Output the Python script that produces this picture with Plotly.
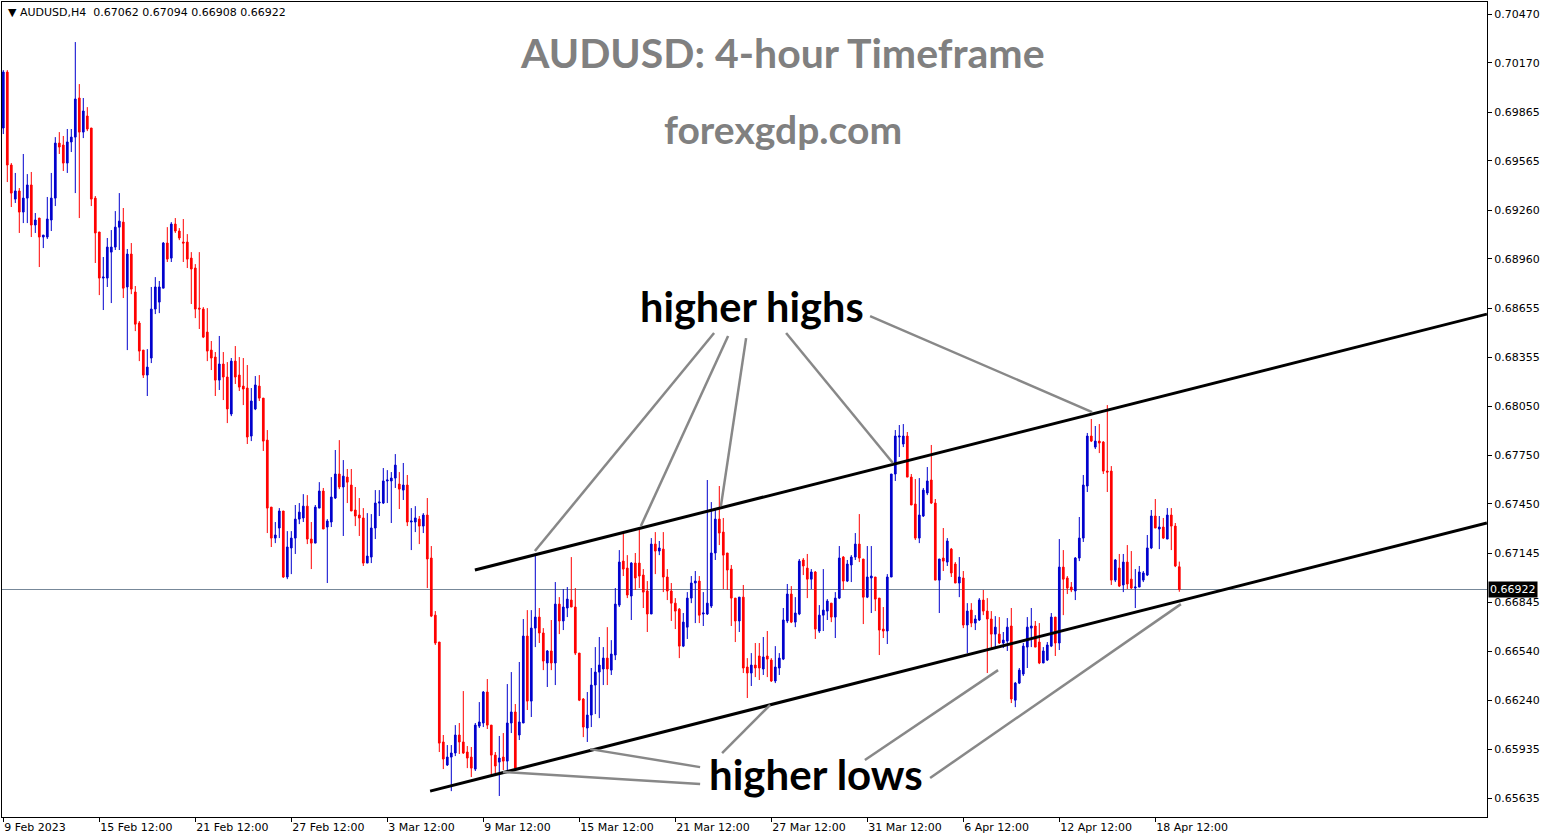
import plotly.graph_objects as go

# ---------------- data (AUDUSD, H4) ----------------
open_ = [
0.69767,0.70112,0.69539,0.69329,0.69379,0.69249,0.69335,0.69416,0.69169,0.69212,
0.69095,0.69095,0.69200,0.69335,0.69674,0.69662,0.69551,0.69681,0.69711,0.69952,
0.69742,0.69841,0.69767,0.69335,0.69126,0.68842,0.68842,0.69002,0.69033,0.69156,
0.69187,0.68787,0.68990,0.68756,0.68565,0.68398,0.68244,0.68349,0.68651,0.68694,
0.68780,0.69058,0.68965,0.69175,0.69132,0.69064,0.69064,0.68965,0.68904,0.68657,
0.68651,0.68509,0.68398,0.68355,0.68213,0.68312,0.68232,0.68004,0.68330,0.68244,
0.68176,0.68164,0.67868,0.68035,0.68176,0.68102,0.67843,0.67430,0.67239,0.67301,
0.67406,0.66999,0.67178,0.67239,0.67356,0.67363,0.67436,0.67233,0.67208,0.67424,
0.67529,0.67307,0.67338,0.67486,0.67634,0.67554,0.67615,0.67566,0.67412,0.67381,
0.67363,0.67085,0.67122,0.67301,0.67455,0.67455,0.67591,0.67591,0.67609,0.67572,
0.67535,0.67566,0.67338,0.67338,0.67356,0.67313,0.67381,0.67116,0.66764,0.66598,
0.65982,0.65840,0.65889,0.65914,0.66025,0.65982,0.65920,0.65889,0.65815,0.66080,
0.66099,0.66290,0.66086,0.65901,0.65858,0.65889,0.65864,0.66099,0.66167,0.66025,
0.66099,0.66635,0.66234,0.66684,0.66752,0.66654,0.66469,0.66543,0.66469,0.66832,
0.66728,0.66808,0.66857,0.66814,0.66530,0.66247,0.66068,0.66148,0.66333,0.66413,
0.66432,0.66499,0.66425,0.66518,0.66826,0.67097,0.67054,0.66882,0.67085,0.67085,
0.67011,0.66913,0.66771,0.67202,0.67159,0.67171,0.66999,0.66913,0.66838,0.66801,
0.66573,0.66690,0.66869,0.66962,0.66974,0.66771,0.66771,0.66820,0.67147,0.67356,
0.67276,0.67147,0.67048,0.66869,0.66728,0.66875,0.66444,0.66407,0.66456,0.66512,
0.66432,0.66512,0.66487,0.66358,0.66438,0.66493,0.66728,0.66894,0.66721,0.66771,
0.67104,0.67054,0.66986,0.67030,0.66666,0.66764,0.66789,0.66838,0.66752,0.66869,
0.67122,0.66974,0.67073,0.67122,0.67202,0.67110,0.66875,0.66993,0.66999,0.66869,
0.66678,0.66666,0.66999,0.67634,0.67862,0.67819,0.67868,0.67615,0.67449,0.67239,
0.67375,0.67517,0.67597,0.67455,0.66980,0.67116,0.67091,0.67171,0.67079,0.66962,
0.66993,0.66703,0.66795,0.66715,0.66734,0.66857,0.66789,0.66740,0.66647,0.66647,
0.66592,0.66604,0.66697,0.66240,0.66345,0.66401,0.66567,0.66684,0.66697,0.66598,
0.66469,0.66487,0.66573,0.66752,0.66592,0.67060,0.66993,0.66937,0.66913,0.67116,
0.67239,0.67560,0.67868,0.67800,0.67837,0.67831,0.67652,0.67652,0.66980,0.67054,
0.66950,0.67091,0.66986,0.66931,0.66937,0.66980,0.67011,0.67178,0.67375,0.67295,
0.67307,0.67233,0.67381,0.67313,0.67062]

high = [
0.70124,0.70124,0.69551,0.69490,0.69397,0.69607,0.69483,0.69496,0.69243,0.69212,
0.69107,0.69342,0.69490,0.69711,0.69742,0.69718,0.69761,0.69761,0.70297,0.70038,
0.69952,0.69896,0.69767,0.69348,0.69126,0.68972,0.69089,0.69138,0.69255,0.69366,
0.69274,0.69021,0.69058,0.68793,0.68577,0.68398,0.68404,0.68787,0.68848,0.68824,
0.69064,0.69156,0.69187,0.69212,0.69150,0.69206,0.69113,0.69002,0.68928,0.69002,
0.68663,0.68657,0.68454,0.68386,0.68485,0.68386,0.68324,0.68349,0.68423,0.68355,
0.68349,0.68306,0.68164,0.68238,0.68244,0.68102,0.67905,0.67430,0.67338,0.67424,
0.67406,0.67282,0.67282,0.67443,0.67455,0.67510,0.67504,0.67338,0.67443,0.67584,
0.67548,0.67356,0.67615,0.67782,0.67843,0.67720,0.67665,0.67665,0.67554,0.67486,
0.67424,0.67393,0.67387,0.67535,0.67535,0.67671,0.67658,0.67646,0.67757,0.67646,
0.67702,0.67628,0.67424,0.67436,0.67375,0.67393,0.67486,0.67190,0.66789,0.66598,
0.66025,0.65963,0.65963,0.66086,0.66099,0.66296,0.65957,0.65951,0.66099,0.66228,
0.66296,0.66370,0.66086,0.65920,0.66019,0.66037,0.66339,0.66413,0.66216,0.66475,
0.66740,0.66795,0.66795,0.67141,0.66808,0.66684,0.66549,0.66734,0.66968,0.66875,
0.66925,0.66937,0.67122,0.66931,0.66530,0.66253,0.66290,0.66438,0.66567,0.66629,
0.66567,0.66690,0.66610,0.66931,0.67165,0.67270,0.67134,0.67091,0.67147,0.67307,
0.67048,0.66974,0.67239,0.67276,0.67221,0.67276,0.67048,0.66962,0.66869,0.66808,
0.66777,0.66906,0.67005,0.67036,0.67005,0.66906,0.67597,0.67461,0.67424,0.67560,
0.67363,0.67147,0.67073,0.66869,0.66875,0.66950,0.66499,0.66530,0.66592,0.66592,
0.66629,0.66666,0.66499,0.66573,0.66530,0.66808,0.66956,0.66943,0.66875,0.67110,
0.67116,0.67141,0.67048,0.67036,0.66826,0.67048,0.66863,0.66838,0.66906,0.67190,
0.67128,0.67104,0.67134,0.67270,0.67387,0.67110,0.67190,0.67190,0.66999,0.66869,
0.66814,0.67017,0.67634,0.67905,0.67936,0.67942,0.67893,0.67634,0.67603,0.67609,
0.67548,0.67677,0.67813,0.67480,0.67110,0.67301,0.67239,0.67178,0.67091,0.67122,
0.67036,0.66838,0.66838,0.66764,0.66869,0.66919,0.66869,0.66789,0.66758,0.66752,
0.66660,0.66746,0.66808,0.66352,0.66438,0.66592,0.66752,0.66808,0.66728,0.66715,
0.66567,0.66598,0.66777,0.66752,0.67233,0.67165,0.67005,0.66968,0.67122,0.67369,
0.67628,0.67887,0.67973,0.67930,0.67942,0.67837,0.68059,0.67683,0.67110,0.67141,
0.67141,0.67196,0.67159,0.67048,0.67067,0.67036,0.67258,0.67412,0.67480,0.67375,
0.67363,0.67424,0.67424,0.67332,0.67094]

low = [
0.69730,0.69434,0.69280,0.69305,0.69120,0.69181,0.69181,0.69095,0.69120,0.68910,
0.69027,0.69083,0.69132,0.69286,0.69607,0.69502,0.69490,0.69619,0.69366,0.69212,
0.69705,0.69748,0.69286,0.68935,0.68737,0.68645,0.68787,0.68688,0.69015,0.69015,
0.68719,0.68398,0.68743,0.68515,0.68330,0.68226,0.68115,0.68318,0.68620,0.68626,
0.68780,0.68941,0.68941,0.69120,0.69076,0.68941,0.68904,0.68682,0.68595,0.68528,
0.68472,0.68330,0.68275,0.68115,0.68152,0.68090,0.67948,0.67991,0.68189,0.68146,
0.68059,0.67819,0.67837,0.68028,0.68084,0.67776,0.67270,0.67184,0.67208,0.67239,
0.66993,0.66986,0.67017,0.67141,0.67325,0.67338,0.67202,0.67048,0.67208,0.67424,
0.67295,0.66962,0.67307,0.67480,0.67541,0.67252,0.67455,0.67406,0.67313,0.67252,
0.67067,0.67085,0.67085,0.67233,0.67375,0.67449,0.67455,0.67332,0.67548,0.67418,
0.67474,0.67313,0.67165,0.67276,0.67202,0.67270,0.66931,0.66752,0.66580,0.65920,
0.65815,0.65834,0.65679,0.65895,0.65908,0.65908,0.65821,0.65766,0.65803,0.66068,
0.66074,0.66062,0.65778,0.65772,0.65649,0.65809,0.65809,0.66037,0.65815,0.65994,
0.66099,0.66179,0.66136,0.66567,0.66592,0.66425,0.66321,0.66425,0.66333,0.66647,
0.66672,0.66752,0.66814,0.66518,0.66234,0.66012,0.65982,0.66074,0.66154,0.66129,
0.66333,0.66333,0.66395,0.66487,0.66814,0.67005,0.66869,0.66734,0.66919,0.66931,
0.66808,0.66660,0.66771,0.67017,0.67134,0.66906,0.66857,0.66728,0.66678,0.66499,
0.66567,0.66617,0.66838,0.66715,0.66715,0.66697,0.66765,0.66808,0.67104,0.67196,
0.66925,0.66919,0.66697,0.66598,0.66660,0.66407,0.66253,0.66327,0.66382,0.66364,
0.66395,0.66382,0.66352,0.66345,0.66395,0.66487,0.66715,0.66715,0.66690,0.66764,
0.67011,0.66869,0.66925,0.66617,0.66654,0.66666,0.66734,0.66721,0.66623,0.66863,
0.66919,0.66968,0.66968,0.67104,0.67091,0.66709,0.66869,0.66777,0.66789,0.66518,
0.66623,0.66586,0.66999,0.67591,0.67739,0.67800,0.67615,0.67443,0.67227,0.67208,
0.67369,0.67504,0.67449,0.66980,0.66777,0.67036,0.67067,0.66999,0.66962,0.66875,
0.66684,0.66530,0.66690,0.66672,0.66728,0.66764,0.66407,0.66561,0.66555,0.66586,
0.66561,0.66543,0.66222,0.66197,0.66339,0.66389,0.66438,0.66567,0.66567,0.66462,
0.66469,0.66481,0.66567,0.66512,0.66549,0.66764,0.66894,0.66906,0.66857,0.67097,
0.67215,0.67523,0.67831,0.67788,0.67763,0.67634,0.67523,0.66950,0.66968,0.66937,
0.66906,0.66925,0.66925,0.66808,0.66937,0.66968,0.67005,0.67171,0.67301,0.67171,
0.67233,0.67233,0.67165,0.67060,0.66908]

close = [
0.70112,0.69539,0.69366,0.69379,0.69249,0.69335,0.69416,0.69169,0.69200,0.69095,
0.69107,0.69206,0.69335,0.69674,0.69650,0.69551,0.69681,0.69711,0.69946,0.69742,
0.69872,0.69761,0.69329,0.69120,0.68842,0.68848,0.69033,0.69033,0.69156,0.69193,
0.68780,0.68990,0.68774,0.68558,0.68392,0.68244,0.68293,0.68651,0.68787,0.68787,
0.69058,0.68959,0.69175,0.69132,0.69089,0.69058,0.68959,0.68898,0.68651,0.68651,
0.68478,0.68392,0.68349,0.68213,0.68312,0.68232,0.68035,0.68330,0.68232,0.68170,
0.68158,0.67862,0.68084,0.68183,0.68102,0.67837,0.67424,0.67239,0.67258,0.67406,
0.66999,0.67184,0.67239,0.67356,0.67399,0.67436,0.67233,0.67208,0.67430,0.67529,
0.67295,0.67344,0.67492,0.67634,0.67554,0.67621,0.67584,0.67406,0.67375,0.67363,
0.67085,0.67128,0.67301,0.67455,0.67461,0.67591,0.67597,0.67609,0.67689,0.67541,
0.67566,0.67338,0.67344,0.67363,0.67313,0.67381,0.67110,0.66758,0.66592,0.65975,
0.65877,0.65889,0.65914,0.66025,0.65982,0.65914,0.65883,0.65821,0.66086,0.66105,
0.66290,0.66086,0.65901,0.65834,0.65883,0.65864,0.66099,0.66167,0.65821,0.66105,
0.66635,0.66234,0.66684,0.66752,0.66654,0.66481,0.66543,0.66469,0.66832,0.66728,
0.66814,0.66863,0.66814,0.66530,0.66240,0.66074,0.66148,0.66333,0.66413,0.66456,
0.66499,0.66432,0.66524,0.66832,0.67091,0.67048,0.66888,0.67085,0.66993,0.67005,
0.66906,0.66771,0.67202,0.67159,0.67178,0.66999,0.66913,0.66838,0.66789,0.66573,
0.66721,0.66869,0.66962,0.66974,0.66764,0.66777,0.66838,0.67147,0.67356,0.67270,
0.67134,0.67042,0.66869,0.66728,0.66875,0.66438,0.66407,0.66456,0.66438,0.66438,
0.66506,0.66493,0.66358,0.66444,0.66499,0.66734,0.66894,0.66721,0.66777,0.67097,
0.67067,0.66986,0.67030,0.66678,0.66764,0.66795,0.66851,0.66752,0.66869,0.67116,
0.66974,0.67079,0.67122,0.67202,0.67116,0.66875,0.66999,0.67005,0.66863,0.66672,
0.66666,0.66999,0.67634,0.67868,0.67868,0.67868,0.67615,0.67443,0.67239,0.67381,
0.67535,0.67591,0.67455,0.66980,0.67110,0.67097,0.67221,0.67024,0.66962,0.66999,
0.66703,0.66789,0.66715,0.66740,0.66857,0.66789,0.66740,0.66647,0.66690,0.66592,
0.66610,0.66690,0.66247,0.66345,0.66425,0.66573,0.66690,0.66697,0.66567,0.66469,
0.66543,0.66580,0.66752,0.66592,0.67060,0.66986,0.66931,0.66919,0.67116,0.67239,
0.67566,0.67868,0.67837,0.67837,0.67825,0.67652,0.67646,0.66980,0.67104,0.66943,
0.67091,0.66956,0.66931,0.66937,0.67030,0.67024,0.67178,0.67375,0.67301,0.67307,
0.67239,0.67381,0.67313,0.67067,0.66922]

bars = list(range(len(close)))

x_tick_bars = [0, 24, 48, 72, 96, 120, 144, 168, 192, 216, 240, 264, 288]
x_tick_labels = ["9 Feb 2023", "15 Feb 12:00", "21 Feb 12:00", "27 Feb 12:00",
                 "3 Mar 12:00", "9 Mar 12:00", "15 Mar 12:00", "21 Mar 12:00",
                 "27 Mar 12:00", "31 Mar 12:00", "6 Apr 12:00", "12 Apr 12:00",
                 "18 Apr 12:00"]
y_tick_values = [0.70470, 0.70170, 0.69865, 0.69565, 0.69260, 0.68960, 0.68655,
                 0.68355, 0.68050, 0.67750, 0.67450, 0.67145, 0.66845, 0.66540,
                 0.66240, 0.65935, 0.65635]

# channel lines (bar index, price)
upper_line_bars = [117.9, 370.9]
upper_line_prices = [0.67042, 0.68620]
lower_line_bars = [106.7, 370.9]
lower_line_prices = [0.65679, 0.67332]

# callout lines and labels (bar index, price)
hh_label = (187.2, 0.68670)
hh_from_bars = [177.7, 181.2, 185.7, 195.7, 216.7]
hh_from_prices = [0.68503, 0.68485, 0.68472, 0.68503, 0.68608]
hh_to_bars = [132.9, 159.4, 179.4, 222.4, 272.2]
hh_to_prices = [0.67159, 0.67313, 0.67436, 0.67702, 0.68016]

hl_label = (203.2, 0.65785)
hl_from_bars = [174.2, 174.2, 179.7, 215.4, 231.7]
hl_from_prices = [0.65723, 0.65827, 0.65914, 0.65871, 0.65760]
hl_to_bars = [124.9, 146.7, 191.7, 248.7, 294.4]
hl_to_prices = [0.65797, 0.65938, 0.66210, 0.66425, 0.66832]

BULL = "#0000CD"
BEAR = "#FF0000"
AXIS_FONT = dict(family="DejaVu Sans", size=11, color="black")

fig = go.Figure()
fig.add_trace(go.Candlestick(
    x=bars, open=open_, high=high, low=low, close=close,
    increasing=dict(line=dict(color=BULL, width=1), fillcolor=BULL),
    decreasing=dict(line=dict(color=BEAR, width=1), fillcolor=BEAR),
    whiskerwidth=0, showlegend=False, hoverinfo="skip"))

shapes = []
last_price = close[-1]
shapes.append(dict(type="line", xref="paper", x0=0, x1=1, yref="y",
                   y0=last_price, y1=last_price, layer="below",
                   line=dict(color="#778899", width=1)))
for bx, py in ((upper_line_bars, upper_line_prices), (lower_line_bars, lower_line_prices)):
    shapes.append(dict(type="line", xref="x", yref="y", x0=bx[0], x1=bx[1],
                       y0=py[0], y1=py[1], line=dict(color="black", width=3)))
for fb, fp, tb, tp in ((hh_from_bars, hh_from_prices, hh_to_bars, hh_to_prices),
                       (hl_from_bars, hl_from_prices, hl_to_bars, hl_to_prices)):
    for a, b, c, d in zip(fb, fp, tb, tp):
        shapes.append(dict(type="line", xref="x", yref="y", x0=a, y0=b, x1=c, y1=d,
                           line=dict(color="#888888", width=2.5)))

annotations = [
    dict(xref="paper", yref="paper", x=0.5259, y=0.9385, text="AUDUSD: 4-hour Timeframe",
         showarrow=False, xanchor="center", yanchor="middle",
         font=dict(family="Lato", size=41, color="#808080", weight="bold")),
    dict(xref="paper", yref="paper", x=0.5259, y=0.8442, text="forexgdp.com",
         showarrow=False, xanchor="center", yanchor="middle",
         font=dict(family="Lato", size=39, color="#808080", weight="bold")),
    dict(xref="x", yref="y", x=hh_label[0], y=hh_label[1], text="higher highs",
         showarrow=False, xanchor="center", yanchor="middle",
         font=dict(family="Lato", size=41.5, color="black", weight="bold")),
    dict(xref="x", yref="y", x=hl_label[0], y=hl_label[1], text="higher lows",
         showarrow=False, xanchor="center", yanchor="middle",
         font=dict(family="Lato", size=42, color="black", weight="bold")),
    dict(xref="paper", yref="paper", x=0.0027, y=0.9877,
         text="\u25BC AUDUSD,H4\u00a0\u00a0%.5f %.5f %.5f %.5f" % (open_[-1], high[-1], low[-1], close[-1]),
         showarrow=False, xanchor="left", yanchor="middle",
         font=dict(family="DejaVu Sans", size=11, color="black")),
    dict(xref="paper", yref="y", x=1, y=last_price, xshift=1, text="%.5f" % last_price,
         showarrow=False, xanchor="left", yanchor="middle", bgcolor="black", borderpad=1,
         font=dict(family="DejaVu Sans", size=11, color="white")),
]

fig.update_layout(
    width=1550, height=840,
    margin=dict(l=2, r=63, t=2, b=23),
    paper_bgcolor="white", plot_bgcolor="white",
    showlegend=False, hovermode=False, boxgap=0.4,
    shapes=shapes, annotations=annotations,
    xaxis=dict(range=[-0.325, 370.925], tickmode="array", tickvals=x_tick_bars,
               ticktext=x_tick_labels, ticks="outside", ticklen=4, tickcolor="black",
               ticklabelposition="outside right", tickfont=AXIS_FONT,
               showgrid=False, zeroline=False, showline=True, linecolor="black",
               linewidth=1, mirror=True, rangeslider=dict(visible=False)),
    yaxis=dict(range=[0.655195, 0.70544], side="right", tickmode="array",
               tickvals=y_tick_values, ticktext=["%.5f" % v for v in y_tick_values],
               ticks="outside", ticklen=4, tickcolor="black", tickfont=AXIS_FONT,
               showgrid=False, zeroline=False, showline=True, linecolor="black",
               linewidth=1, mirror=True),
)

fig.write_html("out.html", config={"displayModeBar": False},
               post_script="document.body.style.margin='0';document.body.style.overflow='hidden';")
